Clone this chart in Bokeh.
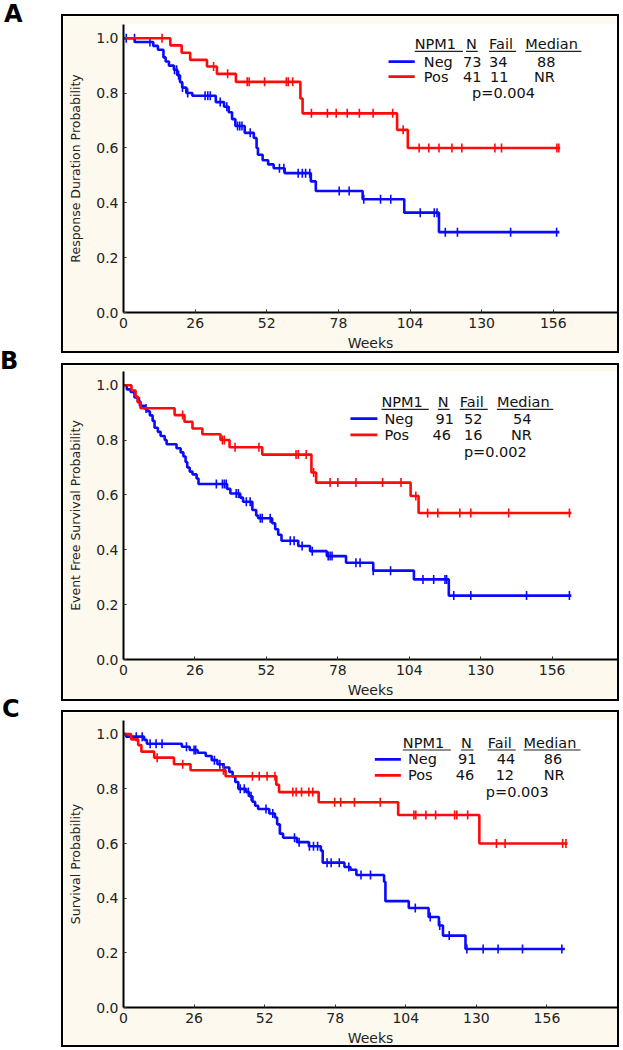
import numpy as np
from bokeh.plotting import figure
from bokeh.models import Label, Div, Spacer, Range1d, PrintfTickFormatter
from bokeh.layouts import row, column
from bokeh.embed import file_html
from bokeh.resources import INLINE

# ---------------- data ----------------
week_ticks = [0, 26, 52, 78, 104, 130, 156]
prob_ticks = [0.0, 0.2, 0.4, 0.6, 0.8, 1.0]
panel_letters = ["A", "B", "C"]

# Panel A: response duration
a_neg_t = [4.1, 10.8, 12.5, 14.5, 15.3, 16.5, 18.3, 19.5, 20.5, 21.3, 22.8, 25.0, 33.5, 36.5,
           38.2, 39.4, 40.6, 44.0, 47.3, 48.3, 48.8, 50.5, 52.5, 54.5, 58.5, 68.0, 69.8, 86.8,
           101.9, 114.5]
a_neg_s = [0.986, 0.972, 0.958, 0.930, 0.915, 0.900, 0.885, 0.865, 0.840, 0.820, 0.800, 0.790,
           0.767, 0.750, 0.730, 0.705, 0.680, 0.655, 0.636, 0.600, 0.575, 0.555, 0.540, 0.526,
           0.508, 0.478, 0.443, 0.413, 0.364, 0.293]
a_neg_c = [1, 4, 9.6, 18.5, 19.3, 20, 21.4, 23.3, 29.6, 30.6, 31.5, 35.1, 37.5, 41.4, 42.2, 43,
           46, 56.6, 58.2, 63.4, 64.9, 66.1, 67.6, 78.3, 81.9, 87.2, 93.3, 97, 107.7, 112.8,
           113.8, 116.8, 121.2, 140.5, 157.2]
a_neg_end = 158.2
a_pos_t = [17.0, 21.1, 24.2, 30.3, 33.9, 40.8, 64.2, 65.0, 99.3, 103.2]
a_pos_s = [0.974, 0.947, 0.921, 0.897, 0.870, 0.841, 0.780, 0.726, 0.666, 0.600]
a_pos_c = [14, 32.7, 37.8, 44.9, 45.6, 51.2, 59.1, 59.8, 61.4, 68.2, 74, 77.2, 81.2, 85.6, 90.6,
           97.7, 101.5, 107.3, 110.8, 114.5, 119.2, 122.8, 134.8, 137.2, 157.3, 158.0]
a_pos_end = 158.5

# Panel B: event free survival
b_neg_t = [1.2, 2.6, 4.0, 5.2, 6.2, 7.7, 8.7, 9.6, 10.6, 11.3, 12.5, 13.5, 15.0, 15.7, 19.3, 20.8,
           21.8, 22.6, 23.2, 24.1, 25.1, 26.6, 27.3, 37.7, 38.9, 42.5, 43.5, 46.9, 48.3, 49.0,
           54.1, 55.2, 56.3, 57.5, 63.6, 67.9, 74.0, 81.0, 90.9, 105.7, 118.4]
b_neg_s = [0.985, 0.975, 0.955, 0.940, 0.925, 0.915, 0.905, 0.890, 0.870, 0.845, 0.830, 0.815,
           0.800, 0.785, 0.770, 0.755, 0.740, 0.720, 0.700, 0.685, 0.675, 0.660, 0.640, 0.622,
           0.605, 0.590, 0.575, 0.545, 0.525, 0.515, 0.497, 0.475, 0.455, 0.433, 0.414, 0.395,
           0.377, 0.353, 0.324, 0.292, 0.233]
b_neg_c = [5.8, 8.2, 33.8, 36.0, 36.7, 37.4, 41.0, 41.8, 44.7, 46.1, 49.8, 50.5, 53.4, 60.7, 62.1,
           65.0, 68.7, 74.5, 75.2, 75.9, 84.6, 86.1, 90.9, 97.2, 109.0, 112.9, 117.0, 117.6,
           120.2, 126.4, 146.7, 162.3]
b_neg_end = 163.0
b_pos_t = [2.9, 4.4, 5.2, 6.2, 18.6, 22.2, 25.1, 28.7, 35.3, 38.6, 50.5, 68.4, 70.1, 104.5, 107.4]
b_pos_s = [0.981, 0.959, 0.937, 0.916, 0.891, 0.867, 0.842, 0.821, 0.800, 0.774, 0.747, 0.682,
           0.645, 0.596, 0.534]
b_pos_c = [21.5, 36.0, 36.7, 40.6, 49.3, 62.8, 63.6, 66.5, 69.2, 75.2, 78.0, 84.6, 94.3, 101.0,
           106.4, 110.7, 114.4, 122.4, 126.4, 140.2, 162.3]
b_pos_end = 163.0

# Panel C: overall survival
c_neg_t = [1.0, 7.6, 8.6, 21.5, 24.4, 27.3, 30.3, 32.5, 34.6, 36.8, 39.0, 40.2, 41.2, 42.3, 45.2,
           46.3, 47.5, 48.5, 49.6, 53.7, 55.8, 56.6, 57.6, 58.8, 63.9, 68.3, 72.7, 73.4, 81.4,
           83.6, 85.8, 96.0, 96.5, 105.1, 112.4, 116.2, 117.7, 126.0]
c_neg_s = [0.991, 0.979, 0.965, 0.954, 0.942, 0.932, 0.920, 0.905, 0.890, 0.878, 0.862, 0.845,
           0.825, 0.800, 0.788, 0.773, 0.753, 0.738, 0.726, 0.710, 0.695, 0.670, 0.636, 0.621,
           0.605, 0.590, 0.574, 0.530, 0.514, 0.504, 0.485, 0.460, 0.389, 0.364, 0.331, 0.300,
           0.263, 0.214]
c_neg_c = [4.7, 6.9, 9.8, 12.0, 14.2, 23.2, 26.0, 26.6, 33.5, 35.5, 37.0, 43.0, 44.5, 46.0, 47.0,
           52.5, 55.0, 63.0, 64.7, 68.5, 70.0, 71.5, 75.0, 76.5, 79.5, 83.0, 87.5, 91.0, 107.5,
           113.0, 116.5, 120.0, 126.5, 132.5, 138.0, 147.0, 161.5]
c_neg_end = 162.6
c_pos_t = [2.8, 5.4, 6.6, 11.3, 18.6, 24.7, 37.6, 56.3, 57.3, 71.9, 101.2, 131.1]
c_pos_s = [0.981, 0.960, 0.936, 0.914, 0.890, 0.868, 0.846, 0.815, 0.788, 0.751, 0.704, 0.600]
c_pos_c = [12.4, 21.8, 36.8, 47.5, 50.0, 52.9, 55.8, 62.4, 63.6, 65.6, 68.3, 69.7, 77.8, 80.0,
           85.1, 94.6, 107.0, 107.7, 111.4, 115.0, 122.0, 122.8, 126.8, 137.4, 140.6, 161.8, 163.0]
c_pos_end = 163.6

# legend table contents
a_table = {"Neg": ["73", "34", "88"], "Pos": ["41", "11", "NR"], "p": "p=0.004"}
b_table = {"Neg": ["91", "52", "54"], "Pos": ["46", "16", "NR"], "p": "p=0.002"}
c_table = {"Neg": ["91", "44", "86"], "Pos": ["46", "12", "NR"], "p": "p=0.003"}
headers = ["NPM1", "N", "Fail", "Median"]

# ---------------- styling ----------------
BLUE = "#0a0aff"
RED = "#ff0a0a"
CREAM = "#fdf9ee"
FONT = "DejaVu Sans"


def step_value(ts, ss, x):
    idx = np.searchsorted(np.asarray(ts), x, side="right")
    return 1.0 if idx == 0 else ss[idx - 1]


def km(p, ts, ss, cs, end, color):
    xs = [0.0] + list(ts) + [end]
    ys = [1.0] + list(ss) + [ss[-1]]
    p.step(xs, ys, mode="after", line_color=color, line_width=2.6)
    cy = [step_value(ts, ss, c) for c in cs]
    p.scatter(cs, cy, marker="dash", angle=np.pi / 2, size=9,
              line_color=color, line_width=1.6)


def legend(p, table, lay):
    hx, hr = lay["hx"], lay["hr"]
    for h, x in zip(headers, hx):
        p.add_layout(Label(x=x, y=lay["yh"], text=h, text_font=FONT, text_font_size="14.5px",
                           text_baseline="middle", text_color="#111111"))
    p.segment(x0=hx, x1=hr, y0=[lay["yu"]] * 4, y1=[lay["yu"]] * 4,
              line_color="#222222", line_width=1.2)
    for key, yy, color in (("Neg", lay["yn"], BLUE), ("Pos", lay["yp"], RED)):
        p.segment(x0=[lay["sx"][0]], x1=[lay["sx"][1]], y0=[yy], y1=[yy],
                  line_color=color, line_width=2.8)
        p.add_layout(Label(x=lay["gx"], y=yy, text=key, text_font=FONT, text_font_size="14.5px",
                           text_baseline="middle", text_color="#111111"))
        for v, x in zip(table[key], lay["vx"][key]):
            p.add_layout(Label(x=x, y=yy, text=v, text_font=FONT, text_font_size="14.5px",
                               text_baseline="middle", text_color="#111111"))
    p.add_layout(Label(x=lay["px"], y=lay["ypv"], text=table["p"], text_font=FONT,
                       text_font_size="14.5px", text_baseline="middle", text_color="#111111"))


def panel(ylabel, neg, pos, table, lay, xmax, borders, height):
    bl, br, bt, bb = borders
    p = figure(width=558, height=height, x_range=Range1d(0, xmax), y_range=Range1d(0, 1.05),
               output_backend="svg", toolbar_location=None,
               min_border_left=bl, min_border_right=br, min_border_top=bt, min_border_bottom=bb,
               background_fill_color="white", border_fill_color=CREAM,
               styles={"border": "2px solid black", "box-sizing": "border-box"})
    p.outline_line_color = None
    p.grid.visible = False
    for ax in (p.xaxis[0], p.yaxis[0]):
        ax.axis_line_width = 2
        ax.axis_line_color = "black"
        ax.major_tick_in = 3
        ax.major_tick_out = 0
        ax.minor_tick_line_color = None
        ax.major_tick_line_color = "#333333"
        ax.major_label_text_font = FONT
        ax.major_label_text_font_size = "14px"
        ax.major_label_text_color = "#222222"
        ax.axis_label_text_font = FONT
        ax.axis_label_text_font_style = "normal"
        ax.axis_label_text_color = "#222222"
    p.xaxis.ticker = week_ticks
    p.yaxis.ticker = prob_ticks
    p.yaxis.formatter = PrintfTickFormatter(format="%.1f")
    p.xaxis.axis_label = "Weeks"
    p.xaxis.axis_label_text_font_size = "14px"
    p.xaxis.axis_label_standoff = 4
    p.xaxis.major_label_standoff = 5
    p.yaxis.axis_label = ylabel
    p.yaxis.axis_label_text_font_size = "12.5px"
    p.yaxis.axis_label_standoff = 10
    p.yaxis.major_label_standoff = 5
    km(p, *neg, BLUE)
    km(p, *pos, RED)
    legend(p, table, lay)
    return p


a_lay = dict(hx=[105.7, 124.3, 132.7, 145.8], hr=[123.2, 128.6, 142.5, 166.2],
             yh=0.978, yu=0.952, yn=0.915, yp=0.860, ypv=0.801,
             sx=[96.2, 105.7], gx=109.0,
             vx={"Neg": [123.2, 132.7, 150.1], "Pos": [123.2, 133.0, 149.0]}, px=126.5)
b_lay = dict(hx=[93.9, 114.4, 122.4, 135.9], hr=[111.1, 118.7, 132.6, 156.4],
             yh=0.937, yu=0.912, yn=0.878, yp=0.819, ypv=0.756,
             sx=[82.6, 92.4], gx=95.0,
             vx={"Neg": [113.6, 123.9, 141.8], "Pos": [112.5, 123.9, 141.0]}, px=123.9)
c_lay = dict(hx=[102.9, 124.3, 134.2, 147.4], hr=[120.6, 129.0, 144.5, 168.4],
             yh=0.968, yu=0.942, yn=0.908, yp=0.849, ypv=0.790,
             sx=[92.6, 102.2], gx=104.8,
             vx={"Neg": [123.2, 137.5, 154.8], "Pos": [122.4, 137.1, 154.8]}, px=133.5)

pA = panel("Response Duration Probability",
           (a_neg_t, a_neg_s, a_neg_c, a_neg_end), (a_pos_t, a_pos_s, a_pos_c, a_pos_end),
           a_table, a_lay, 179.3, (58, 4, 8, 43), 339)
pB = panel("Event Free Survival Probability",
           (b_neg_t, b_neg_s, b_neg_c, b_neg_end), (b_pos_t, b_pos_s, b_pos_c, b_pos_end),
           b_table, b_lay, 179.8, (60, 2, 6, 44), 338)
pC = panel("Survival Probability",
           (c_neg_t, c_neg_s, c_neg_c, c_neg_end), (c_pos_t, c_pos_s, c_pos_c, c_pos_end),
           c_table, c_lay, 182, (55, 4, 8, 42), 337)

letter_tops = [2, 349, 697]
letter_lefts = [4, 0, 2]
inner = "".join(
    f'<div style="position:absolute;top:{t}px;left:{l}px;">{s}</div>'
    for s, t, l in zip(panel_letters, letter_tops, letter_lefts))
letters = Div(text=f'<div style="position:relative;width:60px;height:1040px;">{inner}</div>',
              width=61, height=1040, margin=0,
              styles={"font-family": FONT, "font-weight": "bold", "font-size": "24px",
                      "line-height": "24px", "color": "black"})

right = column(Spacer(height=14), pA, Spacer(height=10), pB, Spacer(height=9), pC)
page = row(letters, right)

open("out.html", "w").write(file_html(page, INLINE))
